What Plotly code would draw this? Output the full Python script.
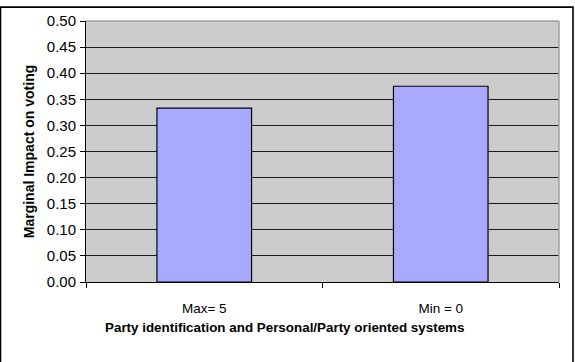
import plotly.graph_objects as go

categories = ["Max= 5", "Min = 0"]
impact = [0.333, 0.375]
y_ticks = [0.0, 0.05, 0.10, 0.15, 0.20, 0.25, 0.30, 0.35, 0.40, 0.45, 0.50]
x_title = "Party identification and Personal/Party oriented systems"
y_title = "Marginal Impact on voting"

W, H = 575, 362
L, R, T, B = 86, 16, 15, 80
pw, ph = W - L - R, H - T - B

fig = go.Figure(
    go.Bar(
        x=categories,
        y=impact,
        width=0.40,
        marker=dict(color="#A9A9FF", line=dict(color="#000000", width=1.2)),
    )
)

font = "Liberation Sans, Arial, sans-serif"

fig.update_layout(
    width=W,
    height=H,
    margin=dict(l=L, r=R, t=T, b=B),
    paper_bgcolor="#FFFFFF",
    plot_bgcolor="#CCCCCC",
    showlegend=False,
    font=dict(family=font, size=13, color="#000000"),
    xaxis=dict(
        type="category",
        tickson="boundaries",
        ticks="outside",
        ticklen=5,
        tickcolor="#000000",
        showline=True,
        linecolor="#000000",
        linewidth=1,
        showgrid=False,
        tickfont=dict(size=13.5),
        ticklabelstandoff=14,
    ),
    yaxis=dict(
        range=[0, 0.5],
        tickvals=y_ticks,
        tickformat=".2f",
        ticks="outside",
        ticklen=5,
        tickcolor="#000000",
        showline=True,
        linecolor="#000000",
        linewidth=1,
        showgrid=True,
        gridcolor="#1a1a1a",
        gridwidth=1,
        zeroline=False,
        tickfont=dict(size=15),
        ticklabelstandoff=1,
        title=dict(
            text="<b>" + y_title + "</b>",
            font=dict(size=14),
            standoff=8,
        ),
    ),
    annotations=[
        # x-axis title, centred on the whole chart
        dict(
            text="<b>" + x_title + "</b>",
            xref="paper", yref="paper",
            x=(284 - L) / pw, y=(T + ph - 328.5) / ph,
            xanchor="center", yanchor="middle",
            showarrow=False,
            font=dict(size=13.4),
        )
    ],
    shapes=[
        # grey frame on the top and right of the plot area
        dict(type="line", xref="paper", yref="paper", x0=0, x1=1, y0=1, y1=1,
             line=dict(color="#A0A0A0", width=1.5)),
        dict(type="line", xref="paper", yref="paper", x0=1, x1=1, y0=0, y1=1,
             line=dict(color="#A0A0A0", width=1.5)),
        # outer chart border
        dict(type="rect", xref="paper", yref="paper",
             x0=(0.5 - L) / pw, x1=(573 - L) / pw,
             y0=(T + ph - 368) / ph, y1=(T + ph - 0.8) / ph,
             line=dict(color="#000000", width=1.6)),
    ],
)

fig.write_html("out.html")
